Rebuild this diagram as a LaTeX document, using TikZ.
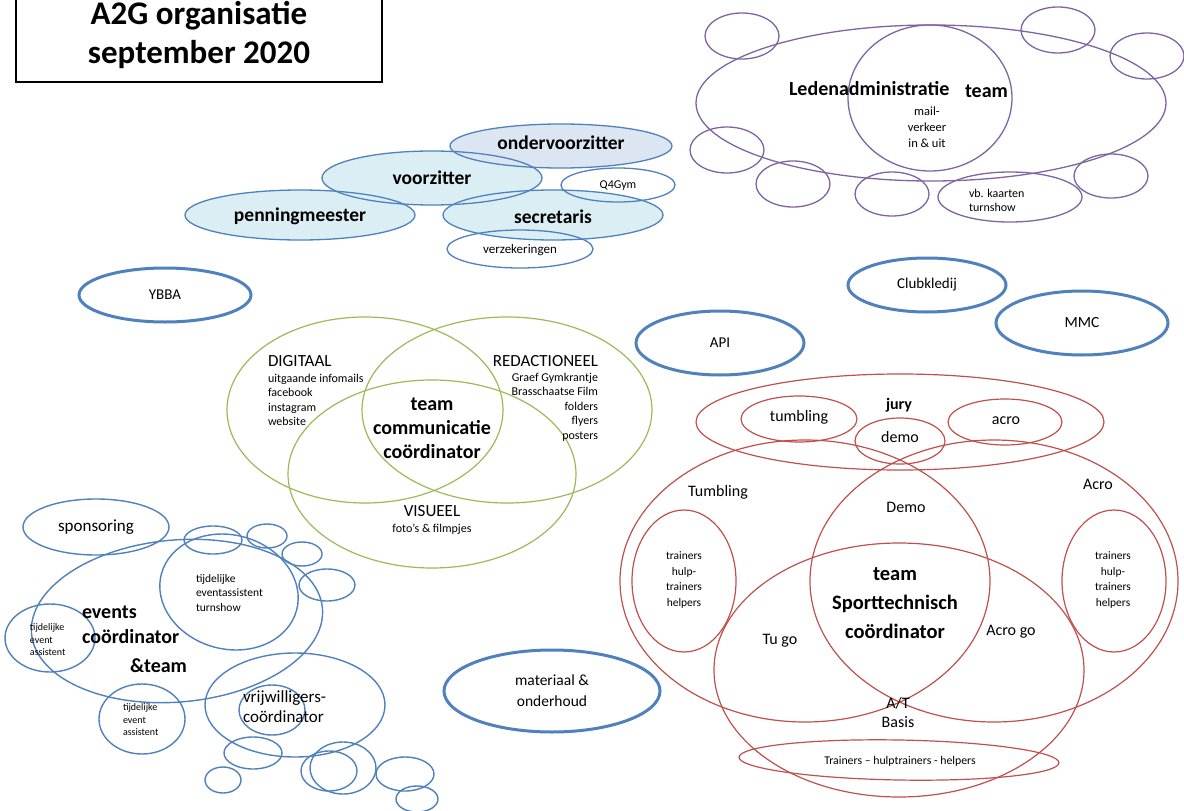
\documentclass[tikz,border=0pt]{standalone}
\usepackage{fontspec}
\setmainfont{Carlito}
\usetikzlibrary{shapes.geometric,backgrounds}
\definecolor{blueC}{HTML}{4F81BD}
\definecolor{fillA}{HTML}{DBEEF4}
\definecolor{fillB}{HTML}{DCE6F2}
\definecolor{purpC}{HTML}{8064A2}
\definecolor{greenC}{HTML}{9BBB59}
\definecolor{redC}{HTML}{C0504D}
\newcommand\fsz[2]{\fontsize{#1}{#2}\selectfont}
\begin{document}
\begin{tikzpicture}[x=1pt,y=-1pt,
  ell/.style={ellipse, inner sep=0pt, outer sep=0pt},
  bthick/.style={ell, draw=blueC, line width=3pt},
  bthin/.style={ell, draw=blueC, line width=1.4pt},
  bline/.style={ell, draw=blueC, line width=1.3pt},
  purp/.style={ell, draw=purpC, line width=1.3pt},
  grn/.style={ell, draw=greenC, line width=1.2pt},
  rd/.style={ell, draw=redC, line width=1.2pt},
  lbl/.style={inner sep=0pt, outer sep=0pt},
  bigb/.style={lbl, font=\bfseries\fsz{19.5}{23}},
  midt/.style={lbl, font=\fsz{16}{19}},
  smt/.style={lbl, font=\fsz{12}{14.5}}
]
\useasboundingbox (0,0) rectangle (1184,811);

% ---------- title ----------
\node[draw, line width=1.3pt, minimum width=366, minimum height=88, inner sep=0pt] (titlebox) at (199,38) {};
\node[lbl, font=\bfseries\fsz{33}{39}, align=center] (title) at (199,35) {A2G organisatie\\september 2020};

% ---------- board ----------
\node[bline, minimum width=230, minimum height=50] (pen) at (300,215) {};
\node[bline, minimum width=220, minimum height=54] (voor) at (432,178) {};
\node[bline, minimum width=220, minimum height=50] (secr) at (553,215) {};
\node[bline, minimum width=222, minimum height=44] (onder) at (561,146) {};
\node[bline, minimum width=114, minimum height=34] (q4) at (618,185) {};
\node[bline, minimum width=146, minimum height=38] (verz) at (520,249) {};
\begin{scope}[on background layer]
  \fill[white] (0,0) rectangle (1184,811);
  \fill[fillA] (pen.center) ellipse [x radius=115, y radius=25];
  \fill[fillA] (voor.center) ellipse [x radius=110, y radius=27];
  \fill[fillA] (secr.center) ellipse [x radius=110, y radius=25];
  \fill[fillB] (onder.center) ellipse [x radius=111, y radius=22];
\end{scope}
\node[bigb] (penT) at (300,216) {penningmeester};
\node[bigb] (voorT) at (432,178) {voorzitter};
\node[bigb] (onderT) at (561,143) {ondervoorzitter};
\node[bigb] (secrT) at (553,217) {secretaris};
\node[lbl, font=\fsz{12}{14}] (q4T) at (618,186) {Q4Gym};
\node[lbl, font=\fsz{13}{15}] (verzT) at (520,250) {verzekeringen};

% ---------- ledenadministratie ----------
\node[purp, minimum width=470, minimum height=156] (led) at (931,103) {};
\node[purp, minimum width=164, minimum height=146] (ledin) at (930,98) {};
\node[purp, minimum width=74, minimum height=46] (lp1) at (742,36) {};
\node[purp, minimum width=74, minimum height=46] (lp2) at (1058,30) {};
\node[purp, minimum width=74, minimum height=46] (lp3) at (1147,56) {};
\node[purp, minimum width=74, minimum height=46] (lp4) at (727,150) {};
\node[purp, minimum width=74, minimum height=46] (lp5) at (793,184) {};
\node[purp, minimum width=74, minimum height=44] (lp6) at (892,194) {};
\node[purp, minimum width=144, minimum height=50] (lp7) at (1010,197) {};
\node[purp, minimum width=74, minimum height=44] (lp8) at (1111,176) {};
\node[lbl, font=\bfseries\fsz{20}{23}, anchor=west] (ledT) at (789,89) {Ledenadministratie};
\node[lbl, font=\bfseries\fsz{20}{23}, anchor=west] (teamL) at (965,91) {team};
\node[lbl, font=\fsz{12.5}{16}, align=center] (mailT) at (927,127) {mail-\\verkeer\\in \& uit};
\node[lbl, font=\fsz{12}{14}, align=left, anchor=west] (vbT) at (969,200) {vb. kaarten\\turnshow};

% ---------- single blue ----------
\node[bthick, minimum width=172, minimum height=54, font=\fsz{15}{18}] (ybba) at (165,295) {YBBA};
\node[bthick, minimum width=158, minimum height=54, font=\fsz{15}{18}] (club) at (927,285) {Clubkledij};
\node[bthick, minimum width=172, minimum height=64, font=\fsz{15.5}{18}] (mmc) at (1082,323) {MMC};
\node[bthick, minimum width=168, minimum height=64, font=\fsz{15}{18}] (api) at (720,343) {API};
\node[bthick, minimum width=216, minimum height=82, font=\fsz{15.5}{21}, align=center] (mat) at (552,691) {materiaal \&\\onderhoud};

% ---------- communicatie ----------
\node[grn, minimum width=276, minimum height=186] (dig) at (365,410) {};
\node[grn, minimum width=290, minimum height=186] (red) at (507,410) {};
\node[grn, minimum width=288, minimum height=188] (vis) at (432,474) {};
\node[lbl, font=\fsz{17}{20}, anchor=west] (digT) at (268,361) {DIGITAAL};
\node[smt, align=left, anchor=west] (digL) at (268,400) {uitgaande infomails\\facebook\\instagram\\website};
\node[lbl, font=\fsz{17}{20}, anchor=east] (redT) at (598,361) {REDACTIONEEL};
\node[smt, align=right, anchor=east] (redL) at (598,407) {Graef Gymkrantje\\Brasschaatse Film\\folders\\flyers\\posters};
\node[lbl, font=\bfseries\fsz{20}{24}, align=center] (comT) at (432,428) {team\\communicatie\\coördinator};
\node[lbl, font=\fsz{17}{20}] (visT) at (432,511) {VISUEEL};
\node[smt] (visL) at (432,529) {foto's \& filmpjes};

% ---------- events ----------
\node[bthin, minimum width=146, minimum height=56, font=\fsz{17}{20}] (spon) at (96,527) {sponsoring};
\node[bthin, minimum width=292, minimum height=162, rotate=5] (evt) at (177,621) {};
\node[bthin, minimum width=140, minimum height=114, rotate=-15] (ttur) at (229,592) {};
\node[bthin, minimum width=90, minimum height=68] (tl) at (50,638) {};
\node[bthin, minimum width=86, minimum height=70] (tb) at (142,719) {};
\node[bthin, minimum width=180, minimum height=104] (vrij) at (295,705) {};
\node[bthin, minimum width=66, minimum height=50] (vrin) at (272,710) {};
\node[bthin, minimum width=58, minimum height=28] (c1) at (213,540) {};
\node[bthin, minimum width=40, minimum height=24] (c2) at (267,536) {};
\node[bthin, minimum width=40, minimum height=24] (c3) at (302,554) {};
\node[bthin, minimum width=56, minimum height=32] (c4) at (327,585) {};
\node[bthin, minimum width=58, minimum height=32] (b1) at (253,753) {};
\node[bthin, minimum width=36, minimum height=26] (b2) at (223,780) {};
\node[bthin, minimum width=56, minimum height=40] (b3) at (329,771) {};
\node[bthin, minimum width=66, minimum height=52] (b4) at (343,768) {};
\node[bthin, minimum width=58, minimum height=34] (b5) at (405,774) {};
\node[bthin, minimum width=42, minimum height=26] (b6) at (417,799) {};
\node[lbl, font=\bfseries\fsz{20}{24}, anchor=west] (evT1) at (82,612) {events};
\node[lbl, font=\bfseries\fsz{20}{24}, anchor=west] (evT2) at (82,637) {coördinator};
\node[lbl, font=\bfseries\fsz{20}{24}, anchor=west] (evT3) at (130,666) {\&team};
\node[lbl, font=\fsz{11.5}{14.5}, align=left, anchor=west] (tturT) at (196,593) {tijdelijke\\eventassistent\\turnshow};
\node[lbl, font=\fsz{10}{12.5}, align=left, anchor=west] (tlT) at (30,640) {tijdelijke\\event\\assistent};
\node[lbl, font=\fsz{10}{12.5}, align=left, anchor=west] (tbT) at (123,720) {tijdelijke\\event\\assistent};
\node[lbl, font=\fsz{17}{20}, align=left, anchor=west] (vrijT) at (243,707) {vrijwilligers-\\coördinator};

% ---------- sporttechnisch ----------
\node[rd, minimum width=408, minimum height=96] (jury) at (900,422) {};
\node[rd, minimum width=116, minimum height=46] (tums) at (799,419) {};
\node[rd, minimum width=114, minimum height=46] (acros) at (1005,422) {};
\node[rd, minimum width=90, minimum height=46] (demos) at (900,441) {};
\node[rd, minimum width=370, minimum height=282] (tumb) at (805,581) {};
\node[rd, minimum width=368, minimum height=282] (acrob) at (994,581) {};
\node[rd, minimum width=370, minimum height=254] (atb) at (899,670) {};
\node[rd, minimum width=320, minimum height=40, rotate=-1] (trb) at (899,760) {};
\node[rd, minimum width=104, minimum height=142] (trl) at (684,581) {};
\node[rd, minimum width=104, minimum height=142] (trr) at (1114,581) {};
\node[lbl, font=\bfseries\fsz{16}{19}] (juryT) at (899,405) {jury};
\node[midt] (tumsT) at (799,417) {tumbling};
\node[midt] (acrosT) at (1006,421) {acro};
\node[midt] (demosT) at (900,437) {demo};
\node[midt] (tumbT) at (718,492) {Tumbling};
\node[midt] (acrobT) at (1098,484) {Acro};
\node[midt] (demoT) at (906,507) {Demo};
\node[lbl, font=\bfseries\fsz{20.5}{29}, align=center] (spT) at (895,603) {team\\Sporttechnisch\\coördinator};
\node[midt] (tugoT) at (780,641) {Tu go};
\node[midt] (acgoT) at (1011,632) {Acro go};
\node[midt, align=center, font=\fsz{16}{19}] (atT) at (898,712) {A/T\\Basis};
\node[lbl, font=\fsz{11.8}{13}] (trbT) at (900,761) {Trainers – hulptrainers - helpers};
\node[lbl, font=\fsz{11.5}{15.5}, align=center] (trlT) at (684,580) {trainers\\hulp-\\trainers\\helpers};
\node[lbl, font=\fsz{11.5}{15.5}, align=center] (trrT) at (1113,580) {trainers\\hulp-\\trainers\\helpers};
\end{tikzpicture}
\end{document}
